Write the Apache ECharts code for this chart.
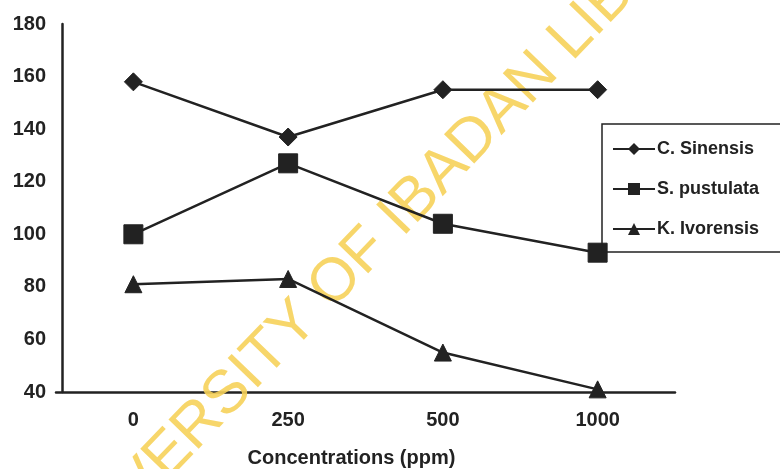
<!DOCTYPE html>
<html>
<head>
<meta charset="utf-8">
<script src="https://cdn.jsdelivr.net/npm/echarts@6/dist/echarts.min.js"></script>
<style>html,body{margin:0;padding:0;background:#fff;}#c{width:780px;height:469px;}</style>
</head>
<body>
<div id="c"></div>
<script>
var categories = ['0', '250', '500', '1000'];
var cSinensis = [158, 137, 155, 155];
var sPustulata = [100, 127, 104, 93];
var kIvorensis = [81, 83, 55, 41];
var seriesNames = ['C. Sinensis', 'S. pustulata', 'K. Ivorensis'];
var yTicks = { min: 40, max: 180, interval: 20 };
var watermark = 'UNIVERSITY OF IBADAN LIBRARY';

var ink = '#222222';
var chart = echarts.init(document.getElementById('c'), null, { renderer: 'canvas' });
function mk(name, data, symbol, size) {
  return {
    name: name, type: 'line', data: data, symbol: symbol, symbolSize: size,
    z: 3,
    lineStyle: { color: ink, width: 2.5 },
    itemStyle: { color: ink, borderColor: ink }
  };
}
chart.setOption({
  animation: false,
  backgroundColor: '#ffffff',
  grid: { left: 56, right: 105, top: 24, bottom: 77, containLabel: false, outerBoundsMode: 'none' },
  xAxis: {
    type: 'category', data: categories, boundaryGap: true,
    axisLine: { lineStyle: { color: ink, width: 2.5 } },
    axisTick: { show: false },
    axisLabel: { color: ink, fontFamily: 'Liberation Sans', fontWeight: 'bold', fontSize: 20, margin: 18 },
    name: 'Concentrations (ppm)', nameLocation: 'middle', nameGap: 56,
    nameTextStyle: { color: ink, fontFamily: 'Liberation Sans', fontWeight: 'bold', fontSize: 20, padding: [0, 28, 0, 0] }
  },
  yAxis: {
    type: 'value', min: yTicks.min, max: yTicks.max, interval: yTicks.interval, offset: -6,
    axisLine: { show: true, lineStyle: { color: ink, width: 2.5 } },
    axisTick: { show: false },
    splitLine: { show: false },
    axisLabel: { color: ink, fontFamily: 'Liberation Sans', fontWeight: 'bold', fontSize: 20, margin: 16 }
  },
  legend: {
    orient: 'vertical', left: 602, top: 124,
    data: seriesNames,
    itemWidth: 42, itemHeight: 15, itemGap: 22,
    padding: [16, 60, 14, 10],
    borderColor: ink, borderWidth: 1.5,
    textStyle: { color: ink, fontFamily: 'Liberation Sans', fontWeight: 'bold', fontSize: 18, padding: [0, 0, 0, -3] }
  },
  graphic: [{
    type: 'text', x: 397, y: 219, rotation: 46 * Math.PI / 180, z: 1,
    style: {
      text: watermark, fill: '#f6d15a', opacity: 0.9,
      font: '61px "Liberation Sans"', textAlign: 'center', textVerticalAlign: 'middle'
    }
  }],
  series: [
    mk(seriesNames[0], cSinensis, 'diamond', 18),
    mk(seriesNames[1], sPustulata, 'rect', 19),
    mk(seriesNames[2], kIvorensis, 'triangle', 17)
  ]
});
</script>
</body>
</html>
